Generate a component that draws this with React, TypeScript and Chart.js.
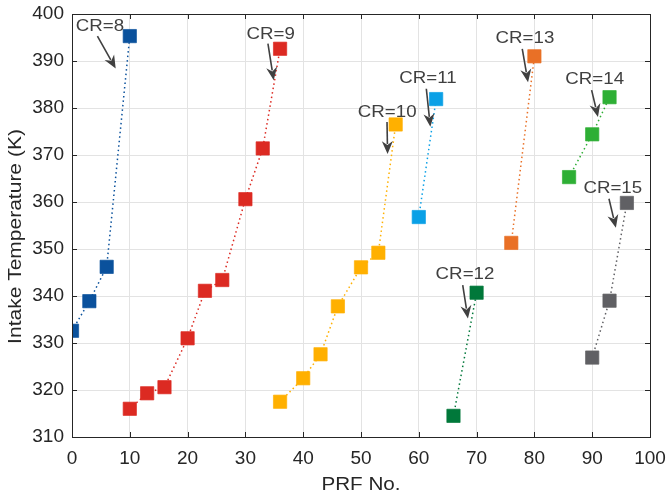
import React, { useEffect, useRef } from "react";
import { Chart, registerables } from "chart.js";

Chart.register(...registerables);

// PRF number vs. intake temperature, one series per compression ratio
const cr8X = [0, 3, 6, 10];
const cr8Y = [332.6, 338.9, 346.2, 395.3];
const cr9X = [10, 13, 16, 20, 23, 26, 30, 33, 36];
const cr9Y = [316.0, 319.3, 320.6, 331.0, 341.1, 343.4, 360.6, 371.4, 392.6];
const cr10X = [36, 40, 43, 46, 50, 53, 56];
const cr10Y = [317.5, 322.5, 327.6, 337.8, 346.1, 349.2, 376.5];
const cr11X = [60, 63];
const cr11Y = [356.8, 381.9];
const cr12X = [66, 70];
const cr12Y = [314.5, 340.7];
const cr13X = [76, 80];
const cr13Y = [351.3, 391.0];
const cr14X = [86, 90, 93];
const cr14Y = [365.3, 374.4, 382.3];
const cr15X = [90, 93, 96];
const cr15Y = [326.9, 339.0, 359.8];

const seriesNames = ["CR=8", "CR=9", "CR=10", "CR=11", "CR=12", "CR=13", "CR=14", "CR=15"];
const seriesX = [cr8X, cr9X, cr10X, cr11X, cr12X, cr13X, cr14X, cr15X];
const seriesY = [cr8Y, cr9Y, cr10Y, cr11Y, cr12Y, cr13Y, cr14Y, cr15Y];
const seriesColors = ["#0a519c", "#dc2a22", "#ffb000", "#0aa0e6", "#00783a", "#e97026", "#2eaf35", "#606064"];

const xTicks = [0, 10, 20, 30, 40, 50, 60, 70, 80, 90, 100];
const yTicks = [310, 320, 330, 340, 350, 360, 370, 380, 390, 400];
const xTitle = "PRF No.";
const yTitle = "Intake Temperature (K)";

// Callout labels: text anchor (centre, baseline), arrow tail, arrow tip (in axis units)
const calloutText = [[4.84, 396.45], [34.39, 394.62], [54.53, 378.15], [61.59, 385.26], [67.99, 343.55], [78.37, 393.89], [90.43, 385.04], [93.56, 361.98]];
const calloutFrom = [[4.4, 395.3], [33.9, 393.7], [54.5, 377.0], [61.3, 384.1], [67.6, 342.3], [77.9, 392.6], [89.9, 383.8], [92.9, 360.7]];
const calloutTo = [[7.56, 388.4], [34.9, 385.9], [54.6, 370.2], [62.0, 376.0], [68.5, 335.2], [78.9, 385.5], [91.0, 378.1], [94.1, 354.5]];

const FONT = "'Liberation Sans', Arial, Helvetica, sans-serif";
const AXIS_COLOR = "#262626";

function stretchedText(ctx: CanvasRenderingContext2D, text: string, x: number, y: number, sx: number, rot = 0) {
  ctx.save();
  ctx.translate(x, y);
  if (rot) ctx.rotate(rot);
  ctx.scale(sx, 1);
  ctx.fillText(text, 0, 0);
  ctx.restore();
}

const framePlugin = {
  id: "frameAndCallouts",
  afterDatasetsDraw(chart: any) {
    const { ctx, chartArea, scales } = chart;
    const xs = scales.x;
    const ys = scales.y;
    const { left, right, top, bottom } = chartArea;
    ctx.save();
    // axes box
    ctx.strokeStyle = AXIS_COLOR;
    ctx.lineWidth = 1;
    ctx.strokeRect(Math.round(left) + 0.5, Math.round(top) + 0.5, Math.round(right - left), Math.round(bottom - top));
    // inward ticks on every side
    const tl = 5;
    ctx.beginPath();
    xTicks.forEach((v) => {
      const px = Math.round(xs.getPixelForValue(v)) + 0.5;
      ctx.moveTo(px, bottom);
      ctx.lineTo(px, bottom - tl);
      ctx.moveTo(px, top);
      ctx.lineTo(px, top + tl);
    });
    yTicks.forEach((v) => {
      const py = Math.round(ys.getPixelForValue(v)) + 0.5;
      ctx.moveTo(left, py);
      ctx.lineTo(left + tl, py);
      ctx.moveTo(right, py);
      ctx.lineTo(right - tl, py);
    });
    ctx.stroke();

    // axis titles
    ctx.fillStyle = AXIS_COLOR;
    ctx.font = `17.5px ${FONT}`;
    ctx.textAlign = "center";
    ctx.textBaseline = "alphabetic";
    stretchedText(ctx, xTitle, (left + right) / 2, 490, 1.18);
    stretchedText(ctx, yTitle, 20.7, 236.5, 1.2, -Math.PI / 2);

    // callouts
    ctx.fillStyle = "#404040";
    ctx.strokeStyle = "#404040";
    ctx.font = `17px ${FONT}`;
    seriesNames.forEach((name, i) => {
      const tx = xs.getPixelForValue(calloutText[i][0]);
      const ty = ys.getPixelForValue(calloutText[i][1]);
      stretchedText(ctx, name, tx, ty, 1.1);
      const x0 = xs.getPixelForValue(calloutFrom[i][0]);
      const y0 = ys.getPixelForValue(calloutFrom[i][1]);
      const x1 = xs.getPixelForValue(calloutTo[i][0]);
      const y1 = ys.getPixelForValue(calloutTo[i][1]);
      const ang = Math.atan2(y1 - y0, x1 - x0);
      const headLen = 13;
      const headW = 5.5;
      const bx = x1 - headLen * Math.cos(ang);
      const by = y1 - headLen * Math.sin(ang);
      ctx.lineWidth = 1.6;
      ctx.beginPath();
      ctx.moveTo(x0, y0);
      ctx.lineTo(bx + 3 * Math.cos(ang), by + 3 * Math.sin(ang));
      ctx.stroke();
      const nx = -Math.sin(ang);
      const ny = Math.cos(ang);
      const notchX = x1 - (headLen - 4) * Math.cos(ang);
      const notchY = y1 - (headLen - 4) * Math.sin(ang);
      ctx.beginPath();
      ctx.moveTo(x1, y1);
      ctx.lineTo(bx + nx * headW, by + ny * headW);
      ctx.lineTo(notchX, notchY);
      ctx.lineTo(bx - nx * headW, by - ny * headW);
      ctx.closePath();
      ctx.fill();
    });
    ctx.restore();
  },
};

export default function App() {
  const canvasRef = useRef<HTMLCanvasElement | null>(null);

  useEffect(() => {
    document.body.style.margin = "0";
    const canvas = canvasRef.current;
    if (!canvas) return;
    const datasets = seriesNames.map((name, i) => ({
      label: name,
      data: seriesX[i].map((x, j) => ({ x, y: seriesY[i][j] })),
      showLine: true,
      borderColor: seriesColors[i],
      backgroundColor: seriesColors[i],
      borderWidth: 1.5,
      borderDash: [1.5, 3],
      pointStyle: "rect" as const,
      pointRadius: 9.4,
      pointHoverRadius: 9.4,
      pointBorderColor: seriesColors[i] + "aa",
      pointBorderWidth: 1,
      pointBackgroundColor: seriesColors[i],
    }));

    const chart = new Chart(canvas, {
      type: "scatter",
      data: { datasets },
      options: {
        animation: false,
        responsive: false,
        events: [],
        layout: { padding: { top: 14, right: 16, left: 0, bottom: 0 } },
        plugins: { legend: { display: false }, tooltip: { enabled: false } },
        scales: {
          x: {
            type: "linear",
            min: 0,
            max: 100,
            afterBuildTicks: (s: any) => {
              s.ticks = xTicks.map((v) => ({ value: v }));
            },
            afterFit: (s: any) => {
              s.height = 62;
              s.paddingLeft = 0;
              s.paddingRight = 0;
            },
            grid: { color: "#e3e3e3", lineWidth: 1, drawTicks: false },
            border: { display: false },
            ticks: { color: AXIS_COLOR, font: { family: FONT, size: 19 }, padding: 10, maxRotation: 0 },
          },
          y: {
            type: "linear",
            min: 310,
            max: 400,
            afterBuildTicks: (s: any) => {
              s.ticks = yTicks.map((v) => ({ value: v }));
            },
            afterFit: (s: any) => {
              s.width = 72;
              s.paddingTop = 0;
              s.paddingBottom = 0;
            },
            grid: { color: "#e3e3e3", lineWidth: 1, drawTicks: false },
            border: { display: false },
            ticks: { color: AXIS_COLOR, font: { family: FONT, size: 19 }, padding: 8 },
          },
        },
      },
      plugins: [framePlugin],
    });
    return () => chart.destroy();
  }, []);

  return (
    <div style={{ width: 666, height: 499, background: "#fff" }}>
      <canvas ref={canvasRef} width={666} height={499} style={{ display: "block" }} />
    </div>
  );
}
